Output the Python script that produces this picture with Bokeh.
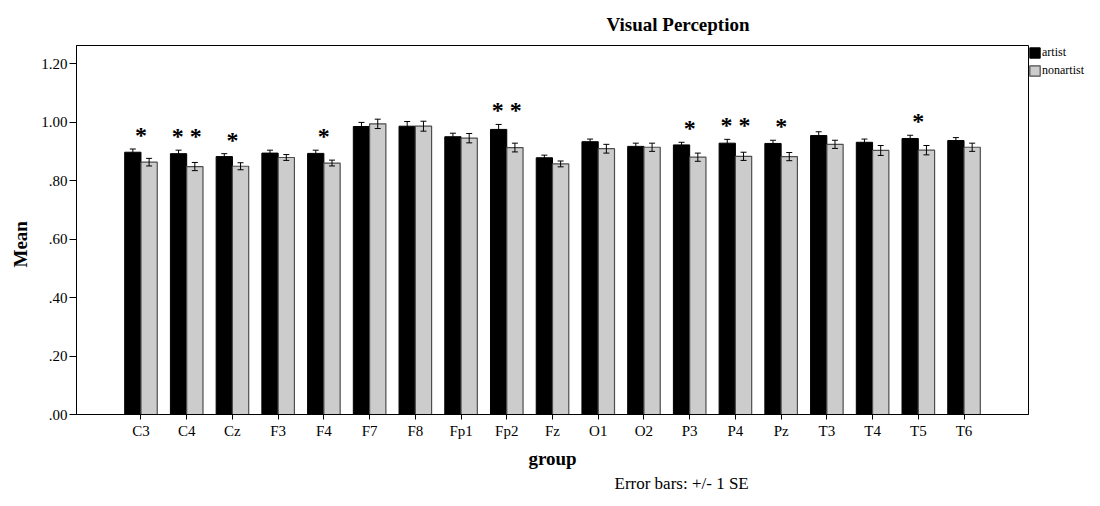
from bokeh.plotting import figure
from bokeh.models import (ColumnDataSource, FactorRange, Range1d, Whisker, Legend, LegendItem,
                          CustomJSTickFormatter, FixedTicker, Title, TeeHead)
from bokeh.transform import dodge
from bokeh.core.properties import value
from bokeh.embed import file_html
from bokeh.resources import INLINE

groups = ["C3", "C4", "Cz", "F3", "F4", "F7", "F8", "Fp1", "Fp2", "Fz",
          "O1", "O2", "P3", "P4", "Pz", "T3", "T4", "T5", "T6"]
artist_mean = [0.897, 0.892, 0.882, 0.894, 0.893, 0.985, 0.986, 0.950, 0.975, 0.878,
               0.933, 0.917, 0.922, 0.928, 0.927, 0.954, 0.931, 0.944, 0.937]
artist_se = [0.011, 0.012, 0.010, 0.010, 0.011, 0.014, 0.016, 0.012, 0.017, 0.009,
             0.009, 0.011, 0.009, 0.013, 0.011, 0.013, 0.011, 0.011, 0.010]
nonartist_mean = [0.863, 0.848, 0.849, 0.879, 0.860, 0.994, 0.986, 0.945, 0.913, 0.857,
                  0.909, 0.914, 0.880, 0.883, 0.882, 0.924, 0.903, 0.904, 0.914]
nonartist_se = [0.013, 0.014, 0.012, 0.010, 0.010, 0.016, 0.017, 0.016, 0.015, 0.010,
                0.015, 0.014, 0.014, 0.014, 0.014, 0.014, 0.017, 0.016, 0.014]
significance = ["*", "* *", "*", "", "*", "", "", "", "* *", "",
                "", "", "*", "* *", "*", "", "", "*", ""]
y_ticks = [0.0, 0.2, 0.4, 0.6, 0.8, 1.0, 1.2]

src = ColumnDataSource(dict(
    group=groups,
    artist=artist_mean,
    nonartist=nonartist_mean,
    a_lo=[m - s for m, s in zip(artist_mean, artist_se)],
    a_hi=[m + s for m, s in zip(artist_mean, artist_se)],
    n_lo=[m - s for m, s in zip(nonartist_mean, nonartist_se)],
    n_hi=[m + s for m, s in zip(nonartist_mean, nonartist_se)],
    sig=significance,
))

SERIF = "Liberation Serif"

p = figure(
    x_range=FactorRange(factors=groups, range_padding=0.91, range_padding_units="absolute"),
    y_range=Range1d(0, 1.262),
    frame_width=952, frame_height=369,
    output_backend="svg", toolbar_location=None,
    min_border_left=75, min_border_right=57, min_border_top=45, min_border_bottom=76,
    background_fill_color="white", border_fill_color="white",
)

bw = 0.356
off = 0.178
r1 = p.vbar(x=dodge("group", -off, range=p.x_range), top="artist", width=bw, source=src,
            fill_color="black", line_color="black", line_width=1)
r2 = p.vbar(x=dodge("group", off, range=p.x_range), top="nonartist", width=bw, source=src,
            fill_color="#cccccc", line_color="#4d4d4d", line_width=1.2)

for base_off, lo, hi in [(-off, "a_lo", "a_hi"), (off, "n_lo", "n_hi")]:
    w = Whisker(base=dodge("group", base_off, range=p.x_range), lower=lo, upper=hi, source=src,
                line_color="black", line_width=1, level="annotation",
                upper_head=TeeHead(size=6, line_color="black", line_width=1),
                lower_head=TeeHead(size=6, line_color="black", line_width=1))
    p.add_layout(w)

p.text(x="group", y="a_hi", text="sig", source=src,
       text_font=value(SERIF), text_font_style="bold", text_font_size="24px",
       text_align="center", text_baseline="middle", text_color="black", y_offset=-14)

legend = Legend(items=[LegendItem(label="artist", renderers=[r1]),
                       LegendItem(label="nonartist", renderers=[r2])],
                location="top_left", orientation="vertical",
                glyph_width=13, glyph_height=13, label_height=13,
                label_text_font=SERIF, label_text_font_size="12px", label_text_color="black",
                label_standoff=1, padding=0, margin=0, spacing=3,
                border_line_color=None, background_fill_alpha=0)
p.add_layout(legend, "right")

p.title.text = "Visual Perception"
p.title.text_font = SERIF
p.title.text_font_style = "bold"
p.title.text_font_size = "19px"
p.title.text_color = "black"
p.title.align = "left"
p.title.offset = 530
p.title.standoff = 22

p.xgrid.visible = False
p.ygrid.visible = False
p.outline_line_color = "black"
p.outline_line_width = 1

p.yaxis.ticker = FixedTicker(ticks=y_ticks)
p.yaxis.formatter = CustomJSTickFormatter(code="return tick.toFixed(2).replace(/^0/, '');")
for ax in (p.xaxis[0], p.yaxis[0]):
    ax.axis_line_color = "black"
    ax.major_tick_line_color = "black"
    ax.major_tick_in = 0
    ax.minor_tick_line_color = None
    ax.major_label_text_font = SERIF
    ax.major_label_text_font_size = "15px"
    ax.major_label_text_color = "black"
    ax.axis_label_text_font = SERIF
    ax.axis_label_text_font_style = "bold"
    ax.axis_label_text_font_size = "19px"
    ax.axis_label_text_color = "black"
p.yaxis.major_tick_out = 7
p.yaxis.major_label_standoff = 2
p.xaxis.major_tick_out = 5
p.xaxis.major_label_standoff = 3
p.xaxis.axis_label = "group"
p.xaxis.axis_label_standoff = 6

ylabel = Title(text="Mean", text_font=SERIF, text_font_style="bold", text_font_size="19px",
               text_color="black", align="left", offset=147, standoff=15)
p.add_layout(ylabel, "left")

footer = Title(text="Error bars: +/- 1 SE", text_font=SERIF, text_font_style="normal",
               text_font_size="17px", text_color="black", align="left", offset=538, standoff=0)
p.add_layout(footer, "below")

open("out.html", "w").write(file_html(p, INLINE))
